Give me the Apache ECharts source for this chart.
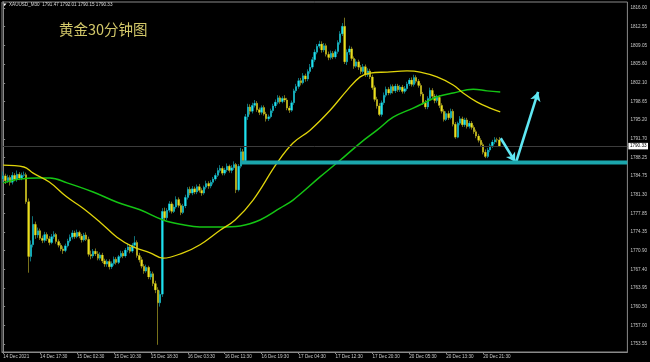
<!DOCTYPE html>
<html><head><meta charset="utf-8">
<script src="https://cdn.jsdelivr.net/npm/echarts@6/dist/echarts.min.js"></script>
<style>html,body{margin:0;padding:0;background:#000;}#c{width:650px;height:362px;}</style>
</head><body><div id="c"></div>
<script>
const opens=[1784.2,1784.8,1783.9,1784.5,1783.6,1784.9,1784.2,1785.1,1784.4,1784.9,
1785.0,1780.0,1769.8,1772.0,1775.8,1773.8,1774.6,1773.2,1772.8,1773.9,
1773.1,1772.4,1773.5,1773.9,1772.6,1771.9,1771.2,1770.9,1771.8,1772.7,
1773.4,1774.2,1773.5,1774.3,1773.6,1772.9,1773.8,1773.0,1770.2,1769.9,
1770.8,1770.3,1769.5,1770.1,1769.0,1768.4,1768.9,1767.9,1768.5,1769.3,
1768.7,1769.8,1770.4,1769.9,1771.0,1771.6,1770.8,1771.9,1772.4,1770.0,
1769.2,1768.0,1767.1,1767.8,1766.0,1766.6,1764.8,1763.6,1761.2,1762.8,
1778.2,1777.0,1778.4,1779.6,1778.2,1779.0,1780.4,1779.3,1778.0,1779.2,
1780.8,1782.3,1781.6,1782.4,1781.8,1782.8,1782.1,1781.6,1782.7,1783.4,
1782.9,1783.6,1784.2,1784.9,1785.8,1786.2,1785.3,1785.9,1786.6,1785.8,
1786.3,1786.9,1782.2,1786.6,1789.3,1787.6,1795.8,1797.6,1796.8,1797.9,
1798.3,1797.1,1796.6,1797.5,1796.3,1795.4,1795.8,1796.9,1797.8,1798.5,
1799.3,1798.6,1799.2,1798.9,1797.4,1797.0,1798.4,1800.6,1801.4,1802.5,
1802.1,1803.4,1802.8,1804.2,1805.0,1806.4,1807.8,1808.9,1809.3,1808.2,
1809.0,1807.4,1806.8,1807.6,1806.9,1807.9,1809.6,1811.2,1812.6,1806.0,
1807.8,1808.4,1806.6,1805.2,1806.0,1805.0,1804.2,1805.1,1803.6,1804.3,
1803.2,1801.2,1799.0,1797.8,1796.2,1798.4,1799.8,1800.9,1800.2,1801.4,
1800.6,1801.5,1800.8,1801.3,1800.5,1801.0,1801.9,1802.6,1801.8,1803.1,
1802.4,1801.6,1800.0,1798.4,1797.6,1799.2,1800.7,1799.6,1798.8,1799.4,
1797.9,1796.8,1795.3,1796.4,1795.6,1796.8,1794.4,1792.0,1794.6,1795.4,
1794.3,1795.2,1794.0,1794.6,1793.8,1793.0,1792.2,1791.4,1790.6,1789.2,
1788.4,1789.6,1790.4,1791.1,1791.5,1791.47];
const highs=[1785.6,1785.2,1785.0,1784.9,1785.5,1785.3,1785.8,1785.5,1785.4,1785.6,
1785.4,1780.6,1772.8,1777.3,1776.3,1775.2,1775.0,1773.7,1774.4,1774.3,
1773.6,1774.0,1774.5,1774.2,1773.0,1772.3,1771.7,1772.2,1773.1,1773.9,
1774.7,1774.6,1774.8,1774.6,1774.0,1774.2,1774.3,1773.5,1770.9,1771.2,
1771.3,1770.8,1770.6,1770.5,1769.4,1769.3,1769.3,1768.9,1769.8,1769.7,
1770.1,1770.9,1770.8,1771.4,1772.2,1772.0,1772.3,1773.6,1772.8,1770.5,
1769.7,1768.4,1768.3,1768.1,1767.1,1767.0,1765.3,1764.1,1763.5,1778.8,
1778.9,1778.8,1780.1,1780.0,1779.5,1781.0,1780.8,1779.7,1779.6,1781.3,
1782.7,1782.8,1782.9,1782.8,1783.2,1783.3,1782.5,1783.0,1783.9,1783.8,
1784.0,1784.6,1785.3,1786.3,1786.8,1786.6,1786.3,1787.1,1786.9,1786.8,
1787.5,1787.2,1787.0,1790.0,1789.8,1796.3,1798.2,1798.1,1798.4,1798.9,
1798.7,1797.5,1797.9,1797.9,1796.7,1796.2,1797.3,1798.2,1799.0,1799.8,
1799.7,1799.6,1799.8,1799.3,1797.8,1798.8,1801.0,1801.9,1803.0,1803.0,
1803.9,1803.8,1804.6,1805.6,1806.9,1808.3,1809.3,1809.9,1809.8,1809.5,
1809.4,1807.9,1808.1,1808.0,1808.3,1810.0,1811.7,1813.2,1814.2,1808.3,
1809.0,1808.8,1807.0,1806.5,1806.4,1805.4,1805.6,1805.5,1804.8,1804.7,
1803.6,1801.6,1799.5,1798.3,1798.8,1800.3,1801.4,1801.3,1801.8,1801.8,
1801.9,1801.9,1801.7,1801.7,1801.5,1802.3,1803.0,1803.1,1803.6,1803.5,
1802.8,1802.0,1800.4,1798.9,1799.6,1801.2,1801.1,1800.0,1799.9,1799.8,
1798.3,1797.2,1796.8,1796.9,1797.3,1797.2,1794.8,1794.9,1795.9,1795.8,
1795.6,1795.6,1795.0,1795.0,1794.2,1793.4,1792.6,1791.8,1791.0,1789.7,
1790.0,1790.8,1791.5,1792.0,1791.9,1792.01];
const lows=[1783.6,1783.3,1783.5,1783.0,1783.2,1783.8,1783.7,1784.0,1784.0,1784.6,
1779.6,1766.8,1768.9,1771.5,1773.1,1773.3,1772.9,1772.3,1772.4,1772.7,
1771.9,1772.1,1773.1,1772.2,1771.5,1770.8,1770.3,1770.6,1771.5,1772.4,
1773.0,1773.1,1773.2,1773.2,1772.4,1772.6,1772.7,1769.8,1769.3,1769.5,
1769.9,1769.1,1769.1,1768.6,1767.9,1767.9,1767.4,1767.5,1768.1,1768.3,
1768.4,1769.5,1769.5,1769.6,1770.6,1770.4,1770.5,1771.5,1769.6,1768.7,
1767.6,1766.6,1766.8,1765.6,1765.5,1764.3,1763.0,1753.4,1760.5,1762.3,
1776.4,1776.6,1778.0,1777.8,1777.9,1778.7,1778.9,1777.5,1777.7,1778.8,
1780.4,1781.2,1781.2,1781.4,1781.4,1781.7,1781.1,1781.3,1782.3,1782.4,
1782.5,1783.2,1783.9,1784.6,1785.4,1784.9,1784.9,1785.5,1785.4,1785.3,
1785.9,1781.6,1781.9,1786.2,1787.0,1787.2,1795.2,1796.2,1796.4,1797.5,
1796.7,1796.1,1796.2,1796.0,1794.9,1795.0,1795.5,1796.5,1797.4,1798.1,
1798.2,1798.3,1798.5,1797.0,1796.5,1796.7,1798.0,1800.2,1801.0,1801.6,
1801.8,1802.3,1802.4,1803.8,1804.7,1806.0,1807.4,1808.5,1807.7,1807.8,
1807.0,1806.3,1806.4,1806.5,1806.6,1807.5,1809.2,1810.8,1805.6,1805.4,
1807.3,1806.2,1804.7,1804.9,1804.5,1803.7,1803.8,1803.2,1803.2,1802.8,
1800.8,1798.6,1797.3,1795.9,1795.8,1798.0,1799.4,1799.8,1799.9,1800.1,
1800.2,1800.4,1800.4,1800.1,1800.1,1800.6,1801.5,1801.4,1801.4,1802.0,
1801.2,1799.6,1798.0,1797.2,1797.2,1798.8,1799.2,1798.3,1798.4,1797.4,
1796.4,1794.9,1795.0,1795.2,1795.3,1794.0,1791.7,1791.8,1794.2,1793.9,
1793.9,1793.6,1793.6,1793.4,1792.6,1791.8,1791.0,1790.2,1788.8,1788.1,
1788.1,1789.2,1790.0,1790.7,1791.0,1790.15];
const closes=[1784.8,1783.9,1784.5,1783.6,1784.9,1784.2,1785.1,1784.4,1784.9,1785.0,
1780.0,1769.8,1772.0,1775.8,1773.8,1774.6,1773.2,1772.8,1773.9,1773.1,
1772.4,1773.5,1773.9,1772.6,1771.9,1771.2,1770.9,1771.8,1772.7,1773.4,
1774.2,1773.5,1774.3,1773.6,1772.9,1773.8,1773.0,1770.2,1769.9,1770.8,
1770.3,1769.5,1770.1,1769.0,1768.4,1768.9,1767.9,1768.5,1769.3,1768.7,
1769.8,1770.4,1769.9,1771.0,1771.6,1770.8,1771.9,1772.4,1770.0,1769.2,
1768.0,1767.1,1767.8,1766.0,1766.6,1764.8,1763.6,1761.2,1762.8,1778.2,
1777.0,1778.4,1779.6,1778.2,1779.0,1780.4,1779.3,1778.0,1779.2,1780.8,
1782.3,1781.6,1782.4,1781.8,1782.8,1782.1,1781.6,1782.7,1783.4,1782.9,
1783.6,1784.2,1784.9,1785.8,1786.2,1785.3,1785.9,1786.6,1785.8,1786.3,
1786.9,1782.2,1786.6,1789.3,1787.6,1795.8,1797.6,1796.8,1797.9,1798.3,
1797.1,1796.6,1797.5,1796.3,1795.4,1795.8,1796.9,1797.8,1798.5,1799.3,
1798.6,1799.2,1798.9,1797.4,1797.0,1798.4,1800.6,1801.4,1802.5,1802.1,
1803.4,1802.8,1804.2,1805.0,1806.4,1807.8,1808.9,1809.3,1808.2,1809.0,
1807.4,1806.8,1807.6,1806.9,1807.9,1809.6,1811.2,1812.6,1806.0,1807.8,
1808.4,1806.6,1805.2,1806.0,1805.0,1804.2,1805.1,1803.6,1804.3,1803.2,
1801.2,1799.0,1797.8,1796.2,1798.4,1799.8,1800.9,1800.2,1801.4,1800.6,
1801.5,1800.8,1801.3,1800.5,1801.0,1801.9,1802.6,1801.8,1803.1,1802.4,
1801.6,1800.0,1798.4,1797.6,1799.2,1800.7,1799.6,1798.8,1799.4,1797.9,
1796.8,1795.3,1796.4,1795.6,1796.8,1794.4,1792.0,1794.6,1795.4,1794.3,
1795.2,1794.0,1794.6,1793.8,1793.0,1792.2,1791.4,1790.6,1789.2,1788.4,
1789.6,1790.4,1791.1,1791.5,1791.47,1790.33];

const priceTicks=['1816.00','1812.55','1809.05','1805.60','1802.10','1798.65','1795.20','1791.70','1788.25','1784.75','1781.30','1777.85','1774.35','1770.90','1767.40','1763.95','1760.50','1757.00','1753.55'];
const timeLabels=['14 Dec 2021','14 Dec 17:30','15 Dec 02:30','15 Dec 10:30','15 Dec 18:30','16 Dec 03:30','16 Dec 11:30','16 Dec 19:30','17 Dec 04:30','17 Dec 12:30','17 Dec 20:30','20 Dec 05:30','20 Dec 13:30','20 Dec 21:30'];
const barsPerLabel=16;
const slotCount=271;
const yMin=1752.06, yMax=1817.12;
const lastPrice=1790.33;
const supportLevel=1787.3;
const supportStartBar=102.7;
const yellowMA=[[0,1786.8],[9,1786.45],[13,1785.3],[20,1783.65],[27.5,1780.9],[34.6,1778.8],[42,1776.2],[49.3,1773.4],[56.3,1771.6],[63.7,1770.5],[69.3,1769.5],[78,1770.5],[85.3,1772.0],[94,1774.7],[100.5,1776.6],[108.3,1780.3],[118.7,1787.2],[125.6,1790.9],[133,1793.3],[141.7,1797.0],[149,1800.7],[154.7,1803.2],[159,1803.9],[166.4,1804.1],[175,1804.3],[180.7,1804.1],[188,1803.2],[195,1801.7],[199.3,1800.2],[205.4,1798.5],[211,1797.4],[215.4,1796.7]];
const greenMA=[[0,1783.5],[7.3,1784.2],[14.7,1784.4],[20.3,1784.4],[27.7,1783.5],[39,1781.8],[49.4,1779.9],[59.3,1778.5],[69.3,1776.6],[78,1775.7],[85.3,1775.3],[94,1775.3],[102.7,1775.5],[111.3,1776.6],[120,1778.8],[125.6,1780.3],[137.3,1784.6],[146,1787.7],[154.7,1790.9],[162,1793.3],[169,1795.7],[177.7,1797.4],[185,1798.9],[188,1799.5],[195,1800.2],[203.7,1800.9],[209.7,1800.6],[215.4,1800.4]];
const arrowDown=[[215.6,1791.8],[221.9,1787.4]];
const arrowUp=[[222.3,1787.4],[231.8,1800.4]];
const header='XAUUSD_M30  1791.47 1792.01 1790.15 1790.33';
const title='黄金30分钟图';

const categories=Array.from({length:slotCount},(_,i)=>String(i));
const fullCandles=opens.map((o,i)=>[o,closes[i],lows[i],highs[i]]);
const bodyCandles=opens.map((o,i)=>[o,closes[i],Math.min(o,closes[i]),Math.max(o,closes[i])]);
const UP='#1fe2f0', DOWN='#ece01c';
const FONT='Liberation Sans, Arial';
const showLabel=(i)=> i%barsPerLabel===0 && i/barsPerLabel<timeLabels.length;

const chart=echarts.init(document.getElementById('c'),null,{renderer:'canvas'});
chart.setOption({
  backgroundColor:'#000',
  animation:false,
  grid:{left:2,right:22,top:2,bottom:10,show:true,borderColor:'#8a8a8a',borderWidth:1},
  xAxis:[{
    type:'category',data:categories,boundaryGap:true,
    axisLine:{show:true,lineStyle:{color:'#8a8a8a',width:1}},
    axisTick:{show:true,interval:(i)=>showLabel(i),alignWithLabel:true,length:2,lineStyle:{color:'#8a8a8a'}},
    axisLabel:{interval:(i)=>showLabel(i),formatter:(v,i)=>timeLabels[Math.round(i/barsPerLabel)]||'',align:'left',fontSize:4.6,color:'#c8c8c8',margin:2,fontFamily:FONT},
    splitLine:{show:false}
  },{
    type:'value',min:-0.5,max:slotCount-0.5,show:false
  }],
  yAxis:{
    type:'value',position:'right',min:yMin,max:yMax,
    axisLine:{show:true,lineStyle:{color:'#8a8a8a',width:1}},
    axisTick:{show:true,length:2,customValues:priceTicks.map(Number),lineStyle:{color:'#8a8a8a'}},
    axisLabel:{customValues:priceTicks.map(Number),formatter:(v)=>Number(v).toFixed(2),fontSize:4.6,color:'#c8c8c8',margin:3,fontFamily:FONT},
    splitLine:{show:false}
  },
  graphic:[
    {type:'polygon',shape:{points:[[2.5,3.5],[6.5,3.5],[4.5,6]]},style:{fill:'#ffffff'}},
    {type:'text',left:9,top:2.5,style:{text:header,fill:'#d8d8d8',fontSize:4.6,fontFamily:FONT}},
    {type:'text',left:59,top:22,style:{text:title,fill:'#d3c86a',fontSize:14.5,fontFamily:'Noto Sans CJK SC'}}
  ],
  series:[
    {type:'line',xAxisIndex:1,data:[],silent:true,
      markLine:{silent:true,symbol:['none','none'],lineStyle:{color:'#3c3c3c',width:1,type:'solid'},
        label:{show:true,position:'end',formatter:()=>lastPrice.toFixed(2),backgroundColor:'#ffffff',color:'#000',fontSize:4.6,padding:[1,1.5,0.5,1.5],distance:1,fontFamily:FONT},
        data:[{yAxis:lastPrice}]}},
    {type:'candlestick',name:'wick',data:fullCandles,barWidth:1.5,
      itemStyle:{color:'#0e6f78',color0:'#77701a',borderColor:'#0e6f78',borderColor0:'#77701a',borderWidth:1},z:2},
    {type:'candlestick',name:'body',data:bodyCandles,barWidth:1.9,
      itemStyle:{color:UP,color0:DOWN,borderColor:UP,borderColor0:DOWN,borderWidth:0},z:3},
    {type:'line',xAxisIndex:1,data:greenMA,smooth:0.4,symbol:'none',lineStyle:{color:'#14c414',width:1.5},z:4},
    {type:'line',xAxisIndex:1,data:yellowMA,smooth:0.4,symbol:'none',lineStyle:{color:'#e0d40a',width:1.3},z:4},
    {type:'line',xAxisIndex:1,data:[[supportStartBar,supportLevel],[slotCount-0.5,supportLevel]],symbol:'none',lineStyle:{color:'#1ba6ac',width:4},z:5},
    {type:'line',xAxisIndex:1,data:[],z:6,
      markLine:{silent:true,symbol:['none','arrow'],symbolSize:[8,9],
        lineStyle:{color:'#5fe7f3',width:2.6,type:'solid'},label:{show:false},
        data:[[{coord:arrowDown[0]},{coord:arrowDown[1]}],[{coord:arrowUp[0]},{coord:arrowUp[1]}]]}}
  ]
});
</script></body></html>
